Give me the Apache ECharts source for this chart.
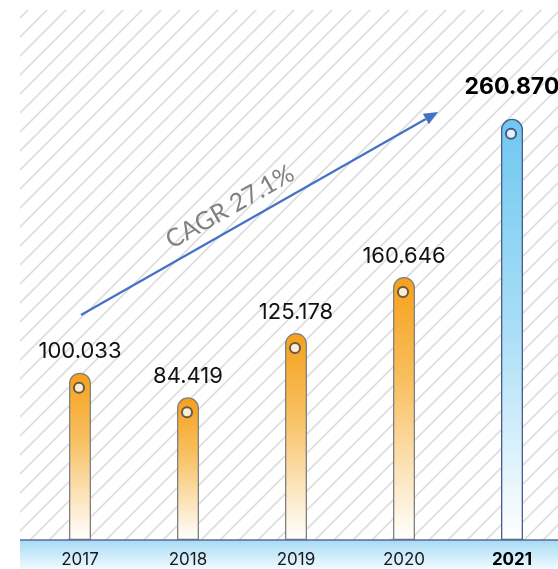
<!DOCTYPE html>
<html>
<head>
<meta charset="utf-8">
<script src="https://cdn.jsdelivr.net/npm/echarts@6/dist/echarts.min.js"></script>
<style>
html, body { margin: 0; padding: 0; background: #fff; overflow: hidden; }
/* chart is a bit wider than the window: the right edge is cut off like the original */
#main { width: 566px; height: 569px; }
</style>
</head>
<body>
<div id="main"></div>
<script>
// data
const years = ['2017', '2018', '2019', '2020', '2021'];
const values = [100.033, 84.419, 125.178, 160.646, 260.870];
const cagrText = 'CAGR 27.1%';

// hatch tile for the background
const tile = document.createElement('canvas');
tile.width = 19;
tile.height = 19;
const ctx = tile.getContext('2d');
ctx.strokeStyle = '#dedede';
ctx.lineWidth = 1.6;
ctx.beginPath();
ctx.moveTo(-2, 21); ctx.lineTo(21, -2);
ctx.moveTo(-2, 2); ctx.lineTo(2, -2);
ctx.moveTo(17, 21); ctx.lineTo(21, 17);
ctx.stroke();

const chart = echarts.init(document.getElementById('main'));

const orangeFill = () => new echarts.graphic.LinearGradient(0, 0, 0, 1, [
	{ offset: 0, color: '#f6a01a' },
	{ offset: 0.4, color: '#f8c061' },
	{ offset: 1, color: '#ffffff' },
]);
const blueFill = () => new echarts.graphic.LinearGradient(0, 0, 0, 1, [
	{ offset: 0, color: '#6fc8f0' },
	{ offset: 0.5, color: '#a9def6' },
	{ offset: 1, color: '#ffffff' },
]);

const last = values.length - 1;

const barData = values.map((v, i) => ({
	value: v,
	itemStyle: {
		color: i === last ? blueFill() : orangeFill(),
		borderColor: i === last ? '#4d5b8c' : '#808080',
	},
	label: i === last ? { fontWeight: 'bold', fontSize: 23, distance: 20, color: '#000' } : {},
}));

const dotData = values.map((v, i) => ({
	value: v,
	itemStyle: { borderColor: i === last ? '#2e3a66' : '#3f3f3f' },
}));

// arrow geometry (annotation, pixels)
const a0 = [81, 315];
const tip = [438, 112];
const dx = tip[0] - a0[0], dy = tip[1] - a0[1];
const len = Math.sqrt(dx * dx + dy * dy);
const ux = dx / len, uy = dy / len;
const base = [tip[0] - 14 * ux, tip[1] - 14 * uy];
const px = -uy, py = ux;

const options = {
	animation: false,
	grid: { left: 26, right: 0, top: 57, bottom: 29 },
	xAxis: {
		type: 'category',
		data: years,
		axisLine: { show: false },
		axisTick: { show: false },
		axisLabel: {
			margin: 11,
			fontSize: 17,
			fontFamily: 'Inter',
			color: '#1a1a1a',
			formatter: (v, i) => (i === last ? '{b|' + v + '}' : v),
			rich: { b: { fontSize: 17, fontFamily: 'Inter', fontWeight: 'bold', color: '#000' } },
		},
	},
	yAxis: {
		type: 'value',
		show: false,
		min: -6,
		max: 300,
		startValue: -6,
		splitLine: { show: false },
	},
	graphic: [
		{
			type: 'rect', z: 0, silent: true,
			shape: { x: 20, y: 10, width: 546, height: 530 },
			style: { fill: { image: tile, repeat: 'repeat' } },
		},
		{
			type: 'rect', z: 0, silent: true,
			shape: { x: 20, y: 540, width: 546, height: 29 },
			style: {
				fill: new echarts.graphic.LinearGradient(0, 0, 0, 1, [
					{ offset: 0, color: '#a6dbf4' },
					{ offset: 1, color: '#f0faff' },
				]),
			},
		},
		{
			type: 'line', z: 10, silent: true,
			shape: { x1: 20, y1: 540, x2: 566, y2: 540 },
			style: { stroke: '#5a6a98', lineWidth: 1.5 },
		},
		{
			type: 'line', z: 10, silent: true,
			shape: { x1: a0[0], y1: a0[1], x2: base[0], y2: base[1] },
			style: { stroke: '#4472c4', lineWidth: 2.2 },
		},
		{
			type: 'polygon', z: 10, silent: true,
			shape: {
				points: [
					tip,
					[base[0] + 6 * px, base[1] + 6 * py],
					[base[0] - 6 * px, base[1] - 6 * py],
				],
			},
			style: { fill: '#4472c4' },
		},
		{
			type: 'text', z: 10, silent: true,
			x: 230, y: 207,
			rotation: Math.atan2(-dy, dx),
			style: {
				text: cagrText,
				fill: '#808080',
				font: '25px Lato',
				align: 'center',
				verticalAlign: 'middle',
			},
		},
	],
	series: [
		{
			type: 'bar',
			data: barData,
			barWidth: 22,
			itemStyle: {
				borderWidth: 1.3,
				borderRadius: [11, 11, 0, 0],
			},
			label: {
				show: true,
				position: 'top',
				distance: 10,
				fontSize: 22,
				fontFamily: 'Inter',
				color: '#111',
				formatter: (p) => p.value.toFixed(3),
			},
			z: 2,
		},
		{
			type: 'scatter',
			data: dotData,
			symbol: 'circle',
			symbolSize: 10,
			symbolOffset: [-1, 15],
			itemStyle: { color: '#fff', borderWidth: 2 },
			z: 3,
		},
	],
};

chart.setOption(options);
</script>
</body>
</html>
